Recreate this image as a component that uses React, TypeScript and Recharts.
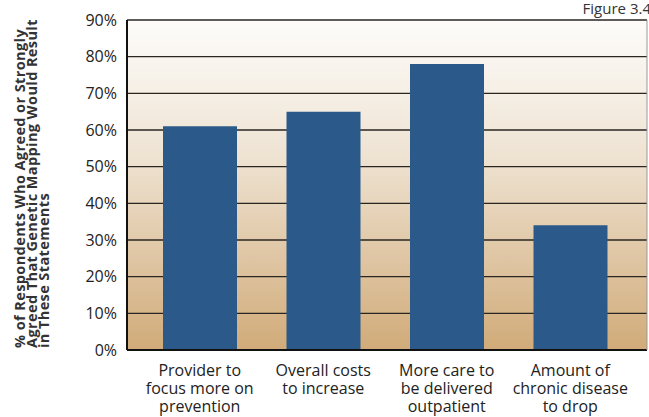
import { BarChart, Bar, XAxis, YAxis, CartesianGrid } from "recharts";

const categories = [
  "Provider to\nfocus more on\nprevention",
  "Overall costs\nto increase",
  "More care to\nbe delivered\noutpatient",
  "Amount of\nchronic disease\nto drop",
];
const agreed = [61, 65, 78, 34];
const yTicks = [0, 10, 20, 30, 40, 50, 60, 70, 80, 90];
const yTitle = [
  "% of Respondents Who Agreed or Strongly",
  "Agreed That Genetic Mapping Would Result",
  "in These Statements",
];

const data = categories.map((name, i) => ({ name, value: agreed[i] }));

const FONT = "'Open Sans', sans-serif";

function CategoryTick(props: any) {
  const { x, y, payload } = props;
  const lines = String(payload.value).split("\n");
  return (
    <text x={x} y={y} textAnchor="middle" fontFamily={FONT} fontSize={16} fill="#222">
      {lines.map((l, i) => (
        <tspan key={i} x={x} dy={i === 0 ? 18 : 18}>
          {l}
        </tspan>
      ))}
    </text>
  );
}

export default function App() {
  return (
    <div style={{ position: "fixed", left: 0, top: 0, width: 649, height: 417, background: "#fff" }}>
      <BarChart
        width={649}
        height={417}
        data={data}
        margin={{ top: 20, right: 1, bottom: 0, left: 0 }}
      >
        <defs>
          <linearGradient id="bg" x1="0" y1="0" x2="0" y2="1">
            <stop offset="0%" stopColor="#fdfcfa" />
            <stop offset="40%" stopColor="#efe4d4" />
            <stop offset="100%" stopColor="#d1ab79" />
          </linearGradient>
        </defs>
        <CartesianGrid
          vertical={false}
          fill="url(#bg)"
          fillOpacity={1}
          stroke="#2a2622"
          strokeWidth={1.4}
          strokeDasharray=""
        />
        <XAxis
          dataKey="name"
          height={67}
          interval={0}
          tickLine={false}
          axisLine={{ stroke: "#111", strokeWidth: 2 }}
          tick={<CategoryTick />}
          padding={{ left: 11, right: 15 }}
        />
        <YAxis
          width={127}
          domain={[0, 90]}
          ticks={yTicks}
          tickFormatter={(v) => `${v}%`}
          tickLine={false}
          axisLine={{ stroke: "#111", strokeWidth: 2 }}
          tick={{ fontFamily: FONT, fontSize: 16, fill: "#222", dx: -2 }}
        />
        <YAxis
          yAxisId="r"
          orientation="right"
          width={1}
          domain={[0, 90]}
          tick={false}
          tickLine={false}
          axisLine={{ stroke: "#999", strokeWidth: 1 }}
        />
        <Bar dataKey="value" fill="#2b5a8a" barSize={74} isAnimationActive={false} />
        <text x={651} y={14} textAnchor="end" fontFamily={FONT} fontSize={15} fill="#333">
          Figure 3.4
        </text>
        {yTitle.map((t, i) => (
          <text
            key={i}
            x={0}
            y={0}
            transform={`translate(${25 + i * 12}, 348) rotate(-90)`}
            textAnchor="start"
            fontFamily={FONT}
            fontWeight="bold"
            fontSize={14.5}
            letterSpacing={0.4}
            fill="#333"
          >
            {t}
          </text>
        ))}
      </BarChart>
    </div>
  );
}
